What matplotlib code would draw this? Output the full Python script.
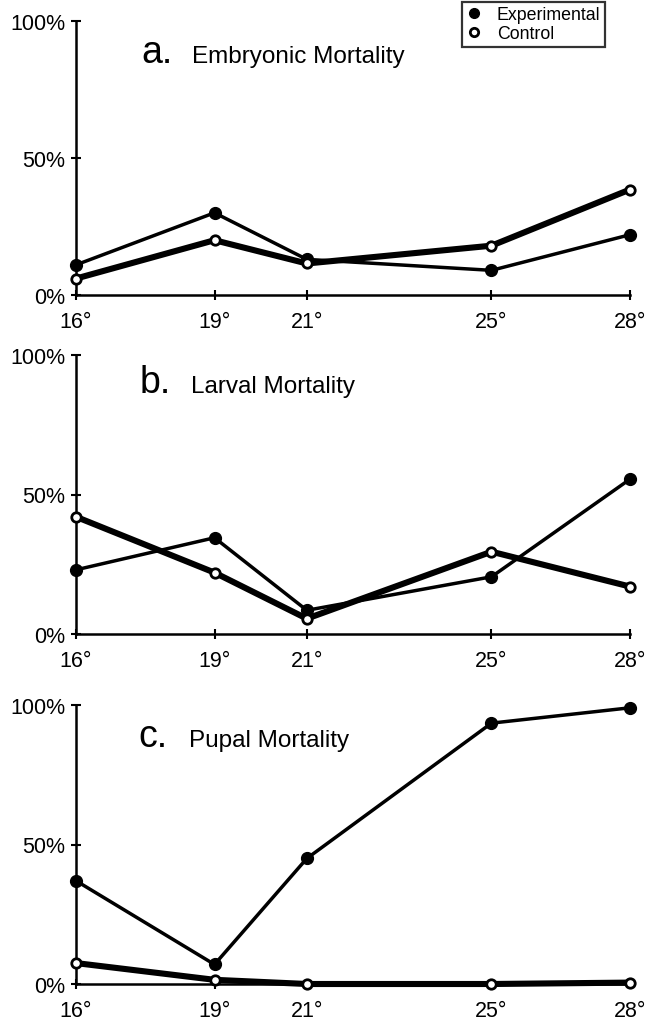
import matplotlib
matplotlib.use("Agg")
import matplotlib.pyplot as plt
from matplotlib.lines import Line2D

plt.rcParams['font.family'] = ['Liberation Sans', 'DejaVu Sans']

# temperatures (deg C) and mortality (%)
temps = [16, 19, 21, 25, 28]
temp_labels = ["16°", "19°", "21°", "25°", "28°"]

embryo_exp = [11, 30, 13, 9, 22]
embryo_ctl = [6, 20, 11.5, 18, 38.5]
larval_exp = [23, 34.5, 8.5, 20.5, 55.5]
larval_ctl = [42, 22, 5.5, 29.5, 17]
pupal_exp = [37, 7, 45, 93.5, 99]
pupal_ctl = [7.5, 1.5, 0, 0, 0.5]

panels = [
    ("a.", "Embryonic Mortality", embryo_exp, embryo_ctl),
    ("b.", "Larval Mortality", larval_exp, larval_ctl),
    ("c.", "Pupal Mortality", pupal_exp, pupal_ctl),
]

W, H = 650, 1020
fig = plt.figure(figsize=(W / 100, H / 100), dpi=100)

# axes boxes in pixels: (left, top, right, bottom)
boxes = [(76, 22, 630, 296), (76, 356, 630, 635), (76, 706, 630, 985)]
title_pos = [(141, 63), (140, 393), (138, 747)]

axes = []
for (l, t, r, b), (tx, ty), (letter, name, exp, ctl) in zip(boxes, title_pos, panels):
    ax = fig.add_axes([l / W, 1 - b / H, (r - l) / W, (b - t) / H])
    axes.append(ax)
    ax.plot(temps, exp, color='black', lw=2.5, marker='o', ms=8.5,
            mfc='black', mec='black', clip_on=False, zorder=3)
    ax.plot(temps, ctl, color='black', lw=4.4, marker='o', ms=6.8,
            mfc='white', mec='black', mew=2, clip_on=False, zorder=4)

    ax.set_xlim(16, 28)
    ax.set_ylim(0, 100)
    ax.set_xticks(temps)
    ax.set_xticklabels(temp_labels)
    ax.set_yticks([0, 50, 100])
    ax.set_yticklabels(["0%", "50%", "100%"])
    for s in ['top', 'right']:
        ax.spines[s].set_visible(False)
    for s in ['left', 'bottom']:
        ax.spines[s].set_linewidth(1.8)
    ax.tick_params(axis='both', direction='inout', length=7, width=1.5,
                   labelsize=15.5)
    ax.tick_params(axis='x', pad=8)
    ax.tick_params(axis='y', pad=4)

    fig.text(tx / W, 1 - ty / H, letter, fontsize=27, va='baseline')
    fig.text((tx + 51) / W, 1 - ty / H, name, fontsize=17.5, va='baseline')

handles = [
    Line2D([], [], ls='none', marker='o', ms=7, mfc='black', mec='black'),
    Line2D([], [], ls='none', marker='o', ms=6, mfc='white', mec='black', mew=2),
]
leg = fig.legend(handles, ["Experimental", "Control"], loc='upper left',
                 bbox_to_anchor=(462 / W, 1 - 3 / H), frameon=True,
                 fancybox=False, edgecolor='black', fontsize=12.8,
                 handlelength=0.8, handletextpad=0.9, borderpad=0.25,
                 labelspacing=0.1, borderaxespad=0)
leg.get_frame().set_linewidth(1.6)

fig.savefig("out.png", dpi=100)
